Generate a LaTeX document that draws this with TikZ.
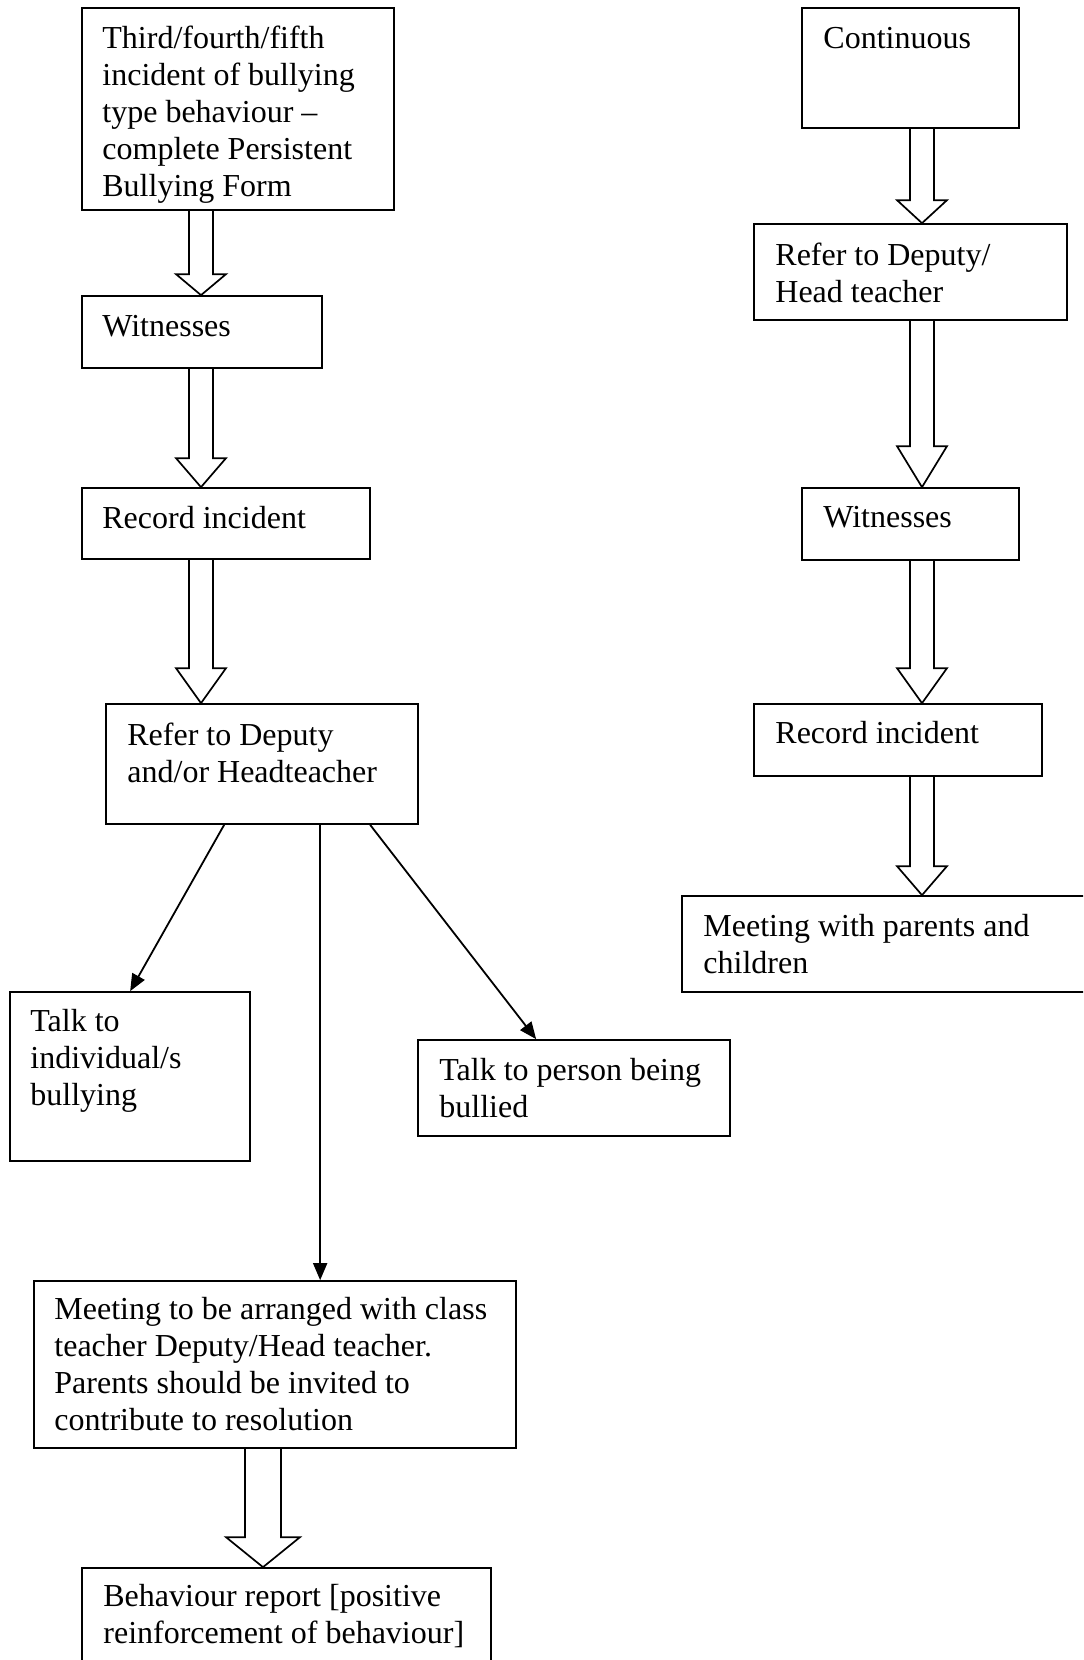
\documentclass[tikz,border=0pt]{standalone}
\usepackage{fontspec}
\setmainfont{Liberation Serif}
\usetikzlibrary{fit,calc,arrows.meta}
\tikzset{
  box/.style={draw, line width=0.85pt, inner sep=0pt, rectangle},
  txt/.style={anchor=base west, inner sep=0pt, align=left, font=\fontsize{16}{18.35}\selectfont},
  barrow/.style={draw, line width=0.85pt, line join=miter},
  thinarr/.style={draw, line width=0.9pt, -{Triangle[length=8.5pt,width=7pt]}}
}
% #1 from node, #2 to node, #3 x centre (px), #4 shaft half width (px), #5 head half width (px), #6 head length (px)
\newcommand\blockarr[6]{%
  \draw[barrow] let \p1=(#1.south), \p2=(#2.north) in
    ({(#3-#4)*0.5pt},\y1) -- ({(#3-#4)*0.5pt},{\y2+#6*0.5pt}) -- ({(#3-#5)*0.5pt},{\y2+#6*0.5pt})
    -- ({#3*0.5pt},\y2) -- ({(#3+#5)*0.5pt},{\y2+#6*0.5pt}) -- ({(#3+#4)*0.5pt},{\y2+#6*0.5pt})
    -- ({(#3+#4)*0.5pt},\y1);}
\begin{document}
\begin{tikzpicture}[x=0.5pt,y=-0.5pt]
\useasboundingbox (0,0) rectangle (1083,1660);
\fill[white] (0,0) rectangle (1083,1660);
\clip (0,0) rectangle (1083,1660);

% text nodes are anchored at the baseline of their LAST line
% ---------- left column ----------
\node[box, fit={(82,8) (394,210)}] (b1) {};
\node[txt, font=\fontsize{16}{18.5}\selectfont] (b1t) at (102,196) {Third/fourth/fifth\\incident of bullying\\type behaviour –\\complete Persistent\\Bullying Form};

\node[box, fit={(82,296) (322,368)}] (w1) {};
\node[txt] (w1t) at (102,336) {Witnesses};

\node[box, fit={(82,488) (370,559)}] (r1) {};
\node[txt] (r1t) at (102,528) {Record incident};

\node[box, fit={(106,704) (418,824)}] (refL) {};
\node[txt] (refLt) at (127,782) {Refer to Deputy\\and/or Headteacher};

\node[box, fit={(10,992) (250,1161)}] (tl) {};
\node[txt] (tlt) at (30,1105) {Talk to\\individual/s\\bullying};

\node[box, fit={(418,1040) (730,1136)}] (tp) {};
\node[txt] (tpt) at (439,1117) {Talk to person being\\bullied};

\node[box, fit={(34,1281) (516,1448)}] (meet) {};
\node[txt] (meett) at (54,1430) {Meeting to be arranged with class\\teacher Deputy/Head teacher.\\Parents should be invited to\\contribute to resolution};

\node[box, fit={(82,1568) (491,1720)}] (beh) {};
\node[txt] (beht) at (103,1643) {Behaviour report [positive\\reinforcement of behaviour]};

% ---------- right column ----------
\node[box, fit={(802,8) (1019,128)}] (cont) {};
\node[txt] (contt) at (823,48) {Continuous};

\node[box, fit={(754,224) (1067,320)}] (refR) {};
\node[txt] (refRt) at (775,302) {Refer to Deputy/\\Head teacher};

\node[box, fit={(802,488) (1019,560)}] (witR) {};
\node[txt] (witRt) at (823,527) {Witnesses};

\node[box, fit={(754,704) (1042,776)}] (recR) {};
\node[txt] (recRt) at (775,743) {Record incident};

\node[box, fit={(682,896) (1100,992)}] (meetR) {};
\node[txt] (meetRt) at (703,973) {Meeting with parents and\\children};

% ---------- block arrows ----------
\blockarr{b1}{w1}{201}{12}{25}{21}
\blockarr{w1}{r1}{201}{12}{25}{29}
\blockarr{r1}{refL}{201}{12}{25}{35}
\blockarr{meet}{beh}{263}{18}{37}{30}

\blockarr{cont}{refR}{922}{12}{25}{23}
\blockarr{refR}{witR}{922}{12}{25}{41}
\blockarr{witR}{recR}{922}{12}{25}{35}
\blockarr{recR}{meetR}{922}{12}{25}{29}

% ---------- thin arrows ----------
\draw[thinarr] ($(refL.south west)+(119,0)$) -- ($(tl.north west)+(121,0)$);
\draw[thinarr] ($(refL.south west)+(215,0)$) -- ($(meet.north west)+(287,0)$);
\draw[thinarr] ($(refL.south west)+(265,0)$) -- ($(tp.north west)+(119,0)$);
\end{tikzpicture}
\end{document}
